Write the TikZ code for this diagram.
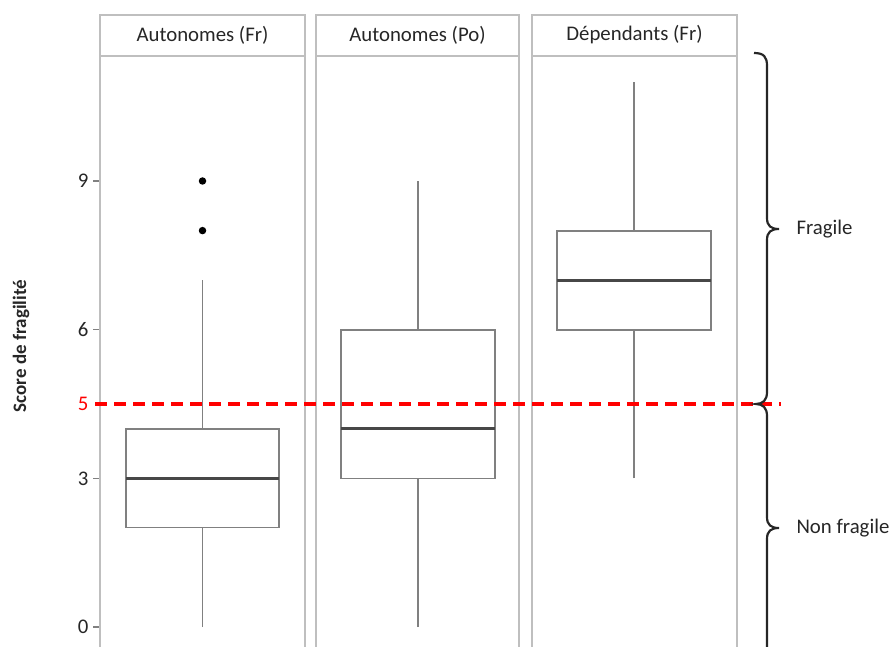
\documentclass[tikz,border=0pt]{standalone}
\usepackage{fontspec}
\setmainfont{Carlito}
\begin{document}
\begin{tikzpicture}[x=1pt,y=-1pt,
  panel/.style={draw=black!25,line width=1.5pt},
  boxst/.style={draw=black!50,line width=1.6pt,fill=white},
  whisk/.style={draw=black!50,line width=1.6pt},
  med/.style={draw=black!72,line width=3pt},
  outl/.style={circle,fill=black,inner sep=0pt,minimum size=7.5pt},
  hdr/.style={font=\fontsize{20.8}{24}\selectfont,text=black!85},
  tick/.style={font=\fontsize{20.8}{24}\selectfont,text=black!85,anchor=east},
  brace/.style={draw=black!85,line width=2.2pt},
  thr/.style={draw=red,line width=3.2pt,dash pattern=on 12pt off 7pt}]
\useasboundingbox (0,0) rectangle (891,647);
\begin{scope}
\clip (0,0) rectangle (891,647);
% panels
\foreach \l/\r in {100/305,316/519,532/737}{
  \draw[panel] (\l,660) -- (\l,15) -- (\r,15) -- (\r,660);
  \draw[panel] (\l,56) -- (\r,56);
}
\node[hdr] (h1) at (202.5,35) {Autonomes (Fr)};
\node[hdr] (h2) at (417.5,35) {Autonomes (Po)};
\node[hdr] (h3) at (634.5,35) {Dépendants (Fr)};
% y axis: value v -> y = 627 - 49.55 v
\foreach \v in {0,3,6,9}{
  \draw[draw=black!50,line width=1.2pt] (93,{627-49.55*\v}) -- (99,{627-49.55*\v});
  \node[tick] (t\v) at (92,{627-49.55*\v}) {\v};
}
\node[tick,text=red] (t5) at (92,404) {5};
\node[font=\fontsize{19}{22}\selectfont\bfseries,text=black!85,rotate=90] (ylab) at (21,346) {Score de fragilité};
% box 1
\draw[whisk] (202.5,627) -- (202.5,527.4);
\draw[whisk] (202.5,429.2) -- (202.5,280.2);
\draw[boxst] (126,429.2) rectangle (279,527.4);
\draw[med] (126,478.4) -- (279,478.4);
\node[outl] (o1) at (202.5,181) {};
\node[outl] (o2) at (202.5,230.6) {};
% box 2
\draw[whisk] (418,627) -- (418,478.4);
\draw[whisk] (418,329.7) -- (418,181);
\draw[boxst] (341,329.7) rectangle (495,478.4);
\draw[med] (341,428.8) -- (495,428.8);
% box 3
\draw[whisk] (634,478.4) -- (634,82);
\draw[boxst] (557,231) rectangle (711,329.7);
\draw[med] (557,280.6) -- (711,280.6);
% threshold
\draw[thr] (95,404) -- (781,404);
% braces
\draw[brace] (754,53) .. controls (764,53) and (767,57) .. (767,66)
  -- (767,218) .. controls (767,226) and (771,229) .. (779,229)
  .. controls (771,229) and (767,232) .. (767,240)
  -- (767,392) .. controls (767,400) and (763,404) .. (756,404)
  .. controls (763,404) and (767,408) .. (767,416)
  -- (767,517) .. controls (767,525) and (771,528) .. (779,528)
  .. controls (771,528) and (767,531) .. (767,539)
  -- (767,660);
\end{scope}
\node[hdr,anchor=west] (fr) at (793,229) {Fragile};
\node[hdr,anchor=west] (nf) at (793,528) {Non fragile};
\end{tikzpicture}
\end{document}
